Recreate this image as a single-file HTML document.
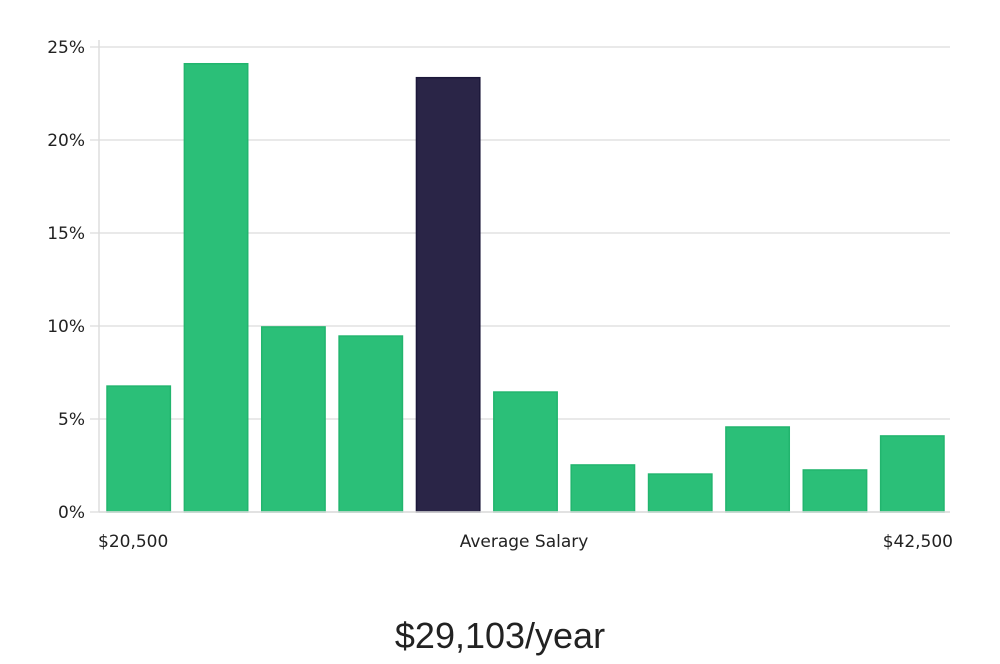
<!DOCTYPE html>
<html><head><meta charset="utf-8"><style>
body{margin:0;background:#fff;width:1000px;height:660px;overflow:hidden;font-family:"DejaVu Sans","Liberation Sans",sans-serif}
</style></head><body>
<svg id="chart" width="1000" height="660" xmlns="http://www.w3.org/2000/svg"></svg>
<script>
const categories=["b1","b2","b3","b4","avg","b6","b7","b8","b9","b10","b11"];
const values=[6.77,24.1,9.95,9.46,23.35,6.45,2.53,2.04,4.57,2.26,4.09];
const highlight=[false,false,false,false,true,false,false,false,false,false,false];
const yTicks=[0,5,10,15,20,25];
const yTickLabels=["0%","5%","10%","15%","20%","25%"];
const NS="http://www.w3.org/2000/svg";
const svg=document.getElementById('chart');
const x0=99,x1=950,yBase=512,yTop=47,yMax=25;
const y=v=>yBase-(v/yMax)*(yBase-yTop);
const slot=(x1-x0)/categories.length;
const bx=i=>x0+i*slot+8;
const bw=slot-14;
function mk(t,a){const e=document.createElementNS(NS,t);for(const k in a)e.setAttribute(k,a[k]);svg.appendChild(e);return e;}
yTicks.forEach((t,i)=>{
 const g=mk('line',{x1:90,x2:x1,y1:y(t),y2:y(t),stroke:'#e2e2e2','stroke-width':1.5});
 
 
 const l=mk('text',{x:85,y:y(t)+6,'text-anchor':'end','font-size':17,fill:'#222'});
 l.textContent=yTickLabels[i];
 
 
});
const ax=mk('line',{x1:x0,x2:x0,y1:40,y2:yBase,stroke:'#ddd','stroke-width':1.5});


values.forEach((v,i)=>{
 const r=mk('rect',{x:bx(i),y:y(v),width:bw,height:yBase-y(v),fill:highlight[i]?'#2a2547':'#2bbf78',stroke:highlight[i]?'#1c183a':'#22b56e','stroke-width':1.5});
 
 
});
const bl=mk('line',{x1:x0,x2:x1,y1:yBase,y2:yBase,stroke:'#ddd','stroke-width':1.5});


[[98,'start','$20,500','x-label-min'],[524,'middle','Average Salary','x-label-average'],[953,'end','$42,500','x-label-max']].forEach(a=>{
 const t=mk('text',{x:a[0],y:547,'text-anchor':a[1],'font-size':17,fill:'#222'});
 t.textContent=a[2];
 
 
});
const s=mk('text',{x:500,y:648,'text-anchor':'middle','font-size':36,fill:'#222','font-family':'Liberation Sans, sans-serif'});
s.textContent='$29,103/year';


</script>
</body></html>
